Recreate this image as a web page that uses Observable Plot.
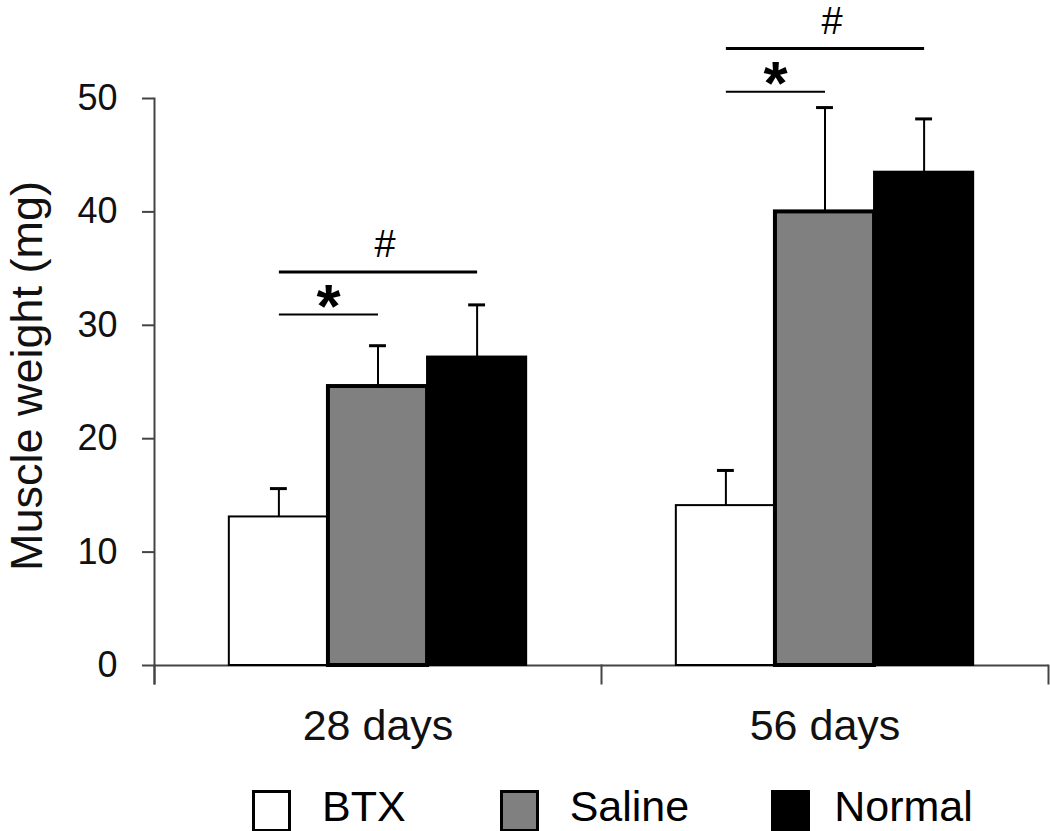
<!DOCTYPE html>
<html>
<head>
<meta charset="utf-8">
<script src="https://cdn.jsdelivr.net/npm/d3@7"></script>
<script src="https://cdn.jsdelivr.net/npm/@observablehq/plot@0.6"></script>
<style>
  body { margin: 0; background: #fff; font-family: "Liberation Sans", Arial, sans-serif; }
  #chart { position: relative; width: 1050px; height: 831px; overflow: hidden; }
  .legend { display: flex; align-items: flex-start; padding-left: 252px; margin-top: 0; font-size: 43px; line-height: 1; color: #000; height: 46px; }
  .item { display: flex; align-items: flex-start; }
  .swatch { width: 33px; height: 36px; margin-top: 5px; border: 3px solid #000; box-sizing: content-box; }
  .label { margin-left: 31px; }
</style>
</head>
<body>
<div id="chart"></div>
<script>
// ---- data ----
const days = ["28 days", "56 days"];
const groups = ["BTX", "Saline", "Normal"];
const mean28 = [13.1, 24.6, 27.2];
const err28 = [2.5, 3.6, 4.6];
const mean56 = [14.1, 40.0, 43.5];
const err56 = [3.1, 9.2, 4.7];
const groupFill = ["#ffffff", "#808080", "#000000"];
const yTicks = [0, 10, 20, 30, 40, 50];
const yTitle = "Muscle weight (mg)";
// significance brackets
const sigDay = ["28 days", "28 days", "56 days", "56 days"];
const sigFrom = ["BTX", "BTX", "BTX", "BTX"];
const sigTo = ["Saline", "Normal", "Saline", "Normal"];
const sigLevel = [30.95, 34.7, 50.6, 54.4];
const sigLabel = ["*", "#", "*", "#"];

// ---- tables built from the arrays ----
const means = [mean28, mean56];
const errs = [err28, err56];
const rows = days.flatMap((day, di) => groups.map((group, gi) => ({
  day, group, mean: means[di][gi], top: means[di][gi] + errs[di][gi]
})));
const sig = sigDay.map((day, i) => ({day, from: sigFrom[i], to: sigTo[i], y: sigLevel[i], label: sigLabel[i]}));

const W = 1050, H = 785, mL = 153, mR = 2, mT = 98, mB = 120;
const plotH = H - mT - mB;
const facetW = (W - mL - mR) / days.length;
const padOuter = 0.755;
const bandW = facetW / (groups.length + 2 * padOuter);
const axisColor = "#444";

const plot = Plot.plot({
  width: W, height: H,
  marginLeft: mL, marginRight: mR, marginTop: mT, marginBottom: mB,
  style: {fontFamily: "'Liberation Sans', Arial, sans-serif", color: "#111", background: "#fff"},
  fx: {domain: days, padding: 0, label: null},
  x: {domain: groups, paddingInner: 0, paddingOuter: padOuter, axis: null, round: false},
  y: {domain: [0, 50]},
  color: {domain: groups, range: groupFill},
  marks: [
    // axes
    Plot.ruleY([0], {stroke: axisColor, strokeWidth: 2}),
    Plot.frame({anchor: "left", facetAnchor: "left", stroke: axisColor, strokeWidth: 2, insetBottom: -18}),
    Plot.frame({anchor: "left", stroke: axisColor, strokeWidth: 2, insetTop: plotH, insetBottom: -18}),
    Plot.frame({anchor: "right", facetAnchor: "right", stroke: axisColor, strokeWidth: 2, insetTop: plotH, insetBottom: -18}),
    Plot.axisY(yTicks, {tickSize: 12, tickPadding: 25, fontSize: 36, stroke: axisColor, strokeWidth: 2, label: null}),
    Plot.axisFx({anchor: "bottom", tickSize: 0, tickPadding: 44, fontSize: 43, label: null}),
    Plot.text([yTitle], {text: d => d, frameAnchor: "left", facetAnchor: "left", textAnchor: "middle", rotate: -90,
      dx: -144, dy: -6, lineAnchor: "top", fontSize: 45, fill: "#111"}),
    // bars
    Plot.barY(rows, {fx: "day", x: "group", y: "mean", fill: "group", stroke: "#000",
      strokeWidth: d => d.group === "Saline" ? 4 : 2}),
    // error bars (upper only)
    Plot.ruleX(rows, {fx: "day", x: "group", y1: "mean", y2: "top", stroke: "#000", strokeWidth: 2}),
    Plot.tickY(rows, {fx: "day", x: "group", y: "top", stroke: "#000", strokeWidth: 3,
      insetLeft: (bandW - 17) / 2, insetRight: (bandW - 17) / 2}),
    // significance lines
    Plot.link(sig, {fx: "day", x1: "from", x2: "to", y1: "y", y2: "y", stroke: "#000",
      strokeWidth: d => d.label === "#" ? 3 : 2}),
    Plot.text(sig.filter(d => d.label === "*"), {fx: "day", x: "from", y: "y", text: "label", dx: bandW / 2,
      dy: -32, lineAnchor: "top", fontSize: 62, fontWeight: "bold", fill: "#000"}),
    Plot.text(sig.filter(d => d.label === "#"), {fx: "day", x: () => "Saline", y: "y", text: "label", dx: 7,
      dy: -42, lineAnchor: "top", fontSize: 38, fill: "#000"})
  ]
});

const chart = document.getElementById("chart");
chart.appendChild(plot);

// legend (HTML, below the SVG)
const legend = document.createElement("div");
legend.className = "legend";
const gaps = [0, 94, 82];
groups.forEach((g, i) => {
  const item = document.createElement("div");
  item.className = "item";
  item.style.marginLeft = gaps[i] + "px";
  const sw = document.createElement("div");
  sw.className = "swatch";
  sw.style.background = groupFill[i];
  const lab = document.createElement("div");
  lab.className = "label";
  if (i === 2) lab.style.marginLeft = "24px";
  lab.textContent = g;
  item.appendChild(sw);
  item.appendChild(lab);
  legend.appendChild(item);
});
chart.appendChild(legend);
</script>
</body>
</html>
